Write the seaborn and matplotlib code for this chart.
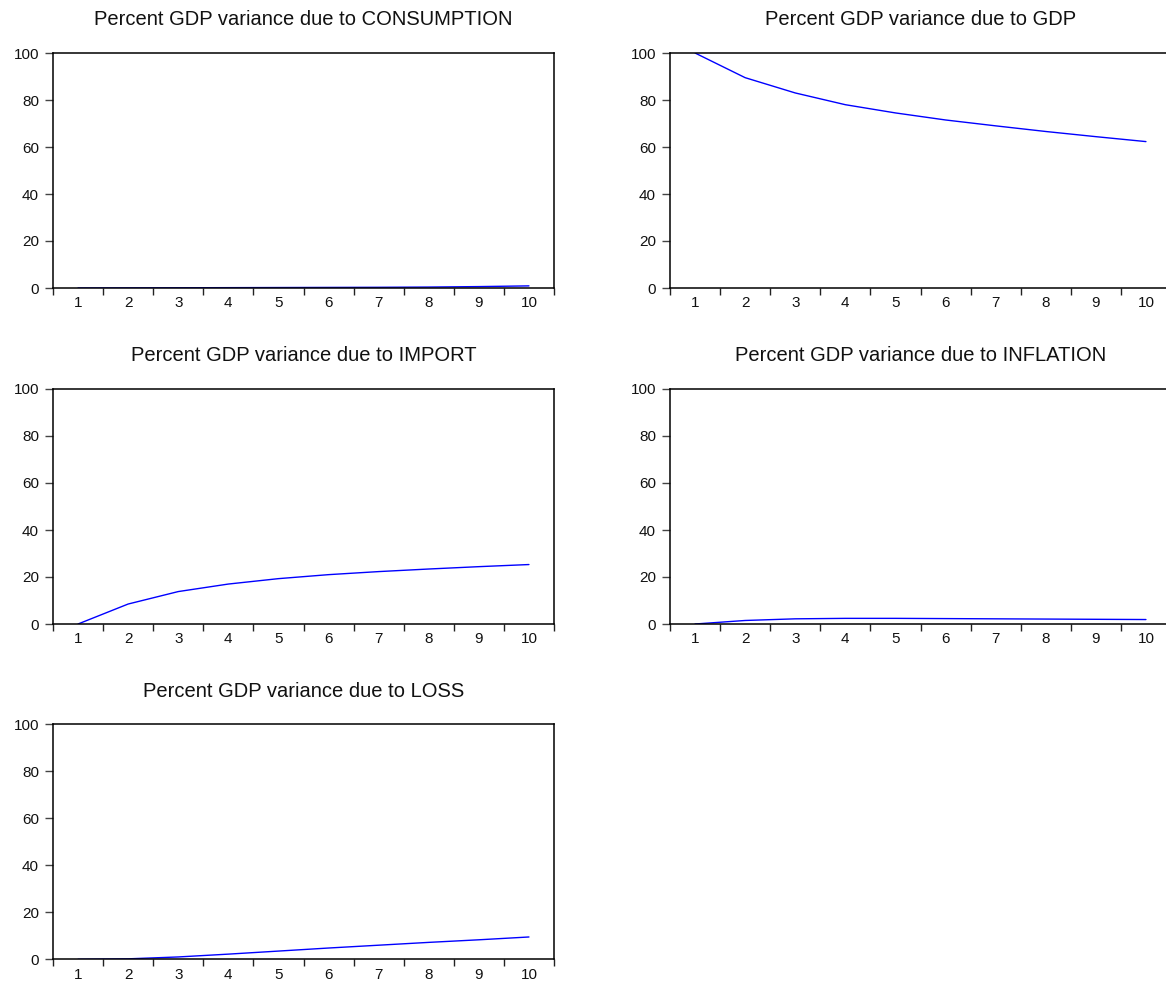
import matplotlib
matplotlib.use("Agg")
import matplotlib.pyplot as plt
import seaborn as sns
import numpy as np
from matplotlib.ticker import FixedLocator

sns.set_theme(style="white")
plt.rcParams['font.family'] = ['Liberation Sans', 'DejaVu Sans']

periods = [1, 2, 3, 4, 5, 6, 7, 8, 9, 10]
consumption = [0.0, 0.05, 0.1, 0.15, 0.2, 0.25, 0.3, 0.4, 0.6, 0.9]
gdp = [100.0, 89.5, 83.0, 78.0, 74.5, 71.5, 69.0, 66.6, 64.4, 62.3]
imports = [0.0, 8.5, 13.8, 17.0, 19.3, 21.0, 22.3, 23.4, 24.4, 25.3]
inflation = [0.0, 1.5, 2.2, 2.4, 2.4, 2.3, 2.2, 2.1, 2.0, 1.9]
loss = [0.0, 0.2, 1.0, 2.2, 3.5, 4.8, 6.0, 7.2, 8.3, 9.5]

titles = ["Percent GDP variance due to CONSUMPTION",
          "Percent GDP variance due to GDP",
          "Percent GDP variance due to IMPORT",
          "Percent GDP variance due to INFLATION",
          "Percent GDP variance due to LOSS"]
series = [consumption, gdp, imports, inflation, loss]
yticks = [0, 20, 40, 60, 80, 100]

W, H = 1166, 981
fig = plt.figure(figsize=(W / 100, H / 100), dpi=100)

lefts = [53, 670]
bottoms = [288, 624, 959.3]
aw, ah = 501, 235

for i, (title, vals) in enumerate(zip(titles, series)):
    r, c = divmod(i, 2)
    ax = fig.add_axes([lefts[c] / W, 1 - bottoms[r] / H, aw / W, ah / H])
    sns.lineplot(x=periods, y=vals, ax=ax, color="#0000FF", linewidth=1.0)
    ax.set_xlim(0.5, 10.5)
    ax.set_ylim(0, 100)
    ax.set_yticks(yticks)
    ax.set_yticklabels([str(v) for v in yticks], fontsize=11, color="#111111")
    ax.set_xticks(periods)
    ax.set_xticklabels([str(p) for p in periods], fontsize=11, color="#111111")
    ax.xaxis.set_minor_locator(FixedLocator(np.arange(0.5, 11, 1.0)))
    ax.tick_params(axis='x', which='major', length=0, pad=6)
    ax.tick_params(axis='x', which='minor', length=5, width=1.0, color="#222222", direction='out', bottom=True)
    ax.tick_params(axis='y', which='major', length=6, width=1.0, color="#444444", direction='out', left=True, pad=4)
    for s in ax.spines.values():
        s.set_visible(True)
        s.set_color("#000000")
        s.set_linewidth(1.1)
    ax.grid(False)
    ax.set_xlabel("")
    ax.set_ylabel("")
    ax.set_title(title, fontsize=14.5, pad=20, color="#111111")

fig.savefig("out.png", dpi=100, facecolor="white")
